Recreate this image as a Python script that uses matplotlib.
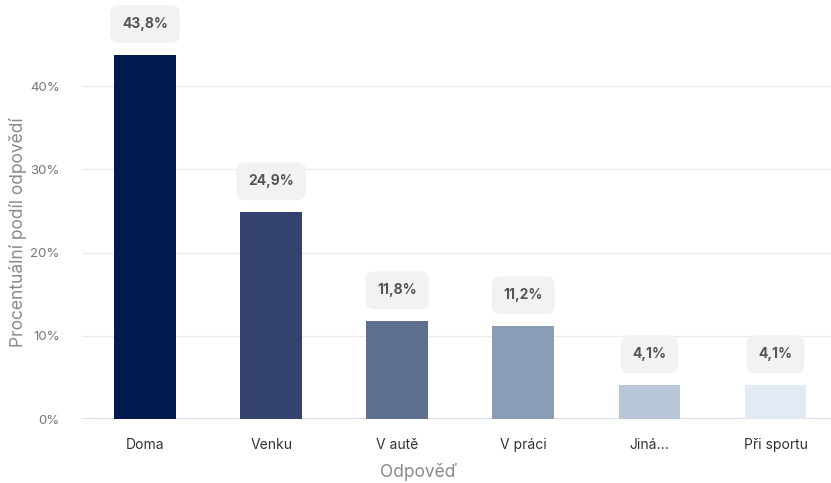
import matplotlib.pyplot as plt
from matplotlib.ticker import FuncFormatter

plt.rcParams['font.family'] = ['Inter', 'DejaVu Sans']

categories = ['Doma', 'Venku', 'V autě', 'V práci', 'Jiná...', 'Při sportu']
values = [43.8, 24.9, 11.8, 11.2, 4.1, 4.1]
labels = ['43,8%', '24,9%', '11,8%', '11,2%', '4,1%', '4,1%']
colors = ['#021b4f', '#33436e', '#5e6e8f', '#8b9cb6', '#b8c6d9', '#e2ebf4']

fig = plt.figure(figsize=(8.31, 4.83), dpi=100)
ax = fig.add_axes([82 / 831, 64 / 483, 1 - 82 / 831, 416 / 483])

x = range(len(categories))
ax.bar(x, values, width=0.49, color=colors, zorder=3)

for i, v in enumerate(values):
    ax.annotate(labels[i], (i, v), xytext=(0, 22), textcoords='offset points',
                ha='center', va='center', fontsize=10, fontweight='bold', color='#555555',
                bbox=dict(boxstyle='round,pad=0.85,rounding_size=0.6', fc='#f1f2f3', ec='none'),
                zorder=4)

ax.set_xlim(-0.5, 5.44)
ax.set_ylim(0, 50)
ax.set_yticks([0, 10, 20, 30, 40])
ax.yaxis.set_major_formatter(FuncFormatter(lambda v, p: f'{int(v)}%'))
ax.grid(axis='y', color='#ececec', linewidth=1, zorder=0)
ax.axhline(0, color='#d8deea', linewidth=1.5, zorder=2)
for s in ax.spines.values():
    s.set_visible(False)
ax.tick_params(axis='y', length=0, pad=16, labelsize=9.5, labelcolor='#777777')
ax.tick_params(axis='x', length=0, pad=14, labelsize=10, labelcolor='#333333')
ax.set_xticks(list(x))
ax.set_xticklabels(categories)
ax.set_ylabel('Procentuální podíl odpovědí', fontsize=12.5, color='#8a8a8a')
ax.yaxis.set_label_coords(-55 / 749, 0.45)
ax.set_xlabel('Odpověď', fontsize=12.5, color='#8a8a8a')
ax.xaxis.set_label_coords((419 - 82) / 749, -44 / 416)

fig.savefig('out.png', dpi=100)
